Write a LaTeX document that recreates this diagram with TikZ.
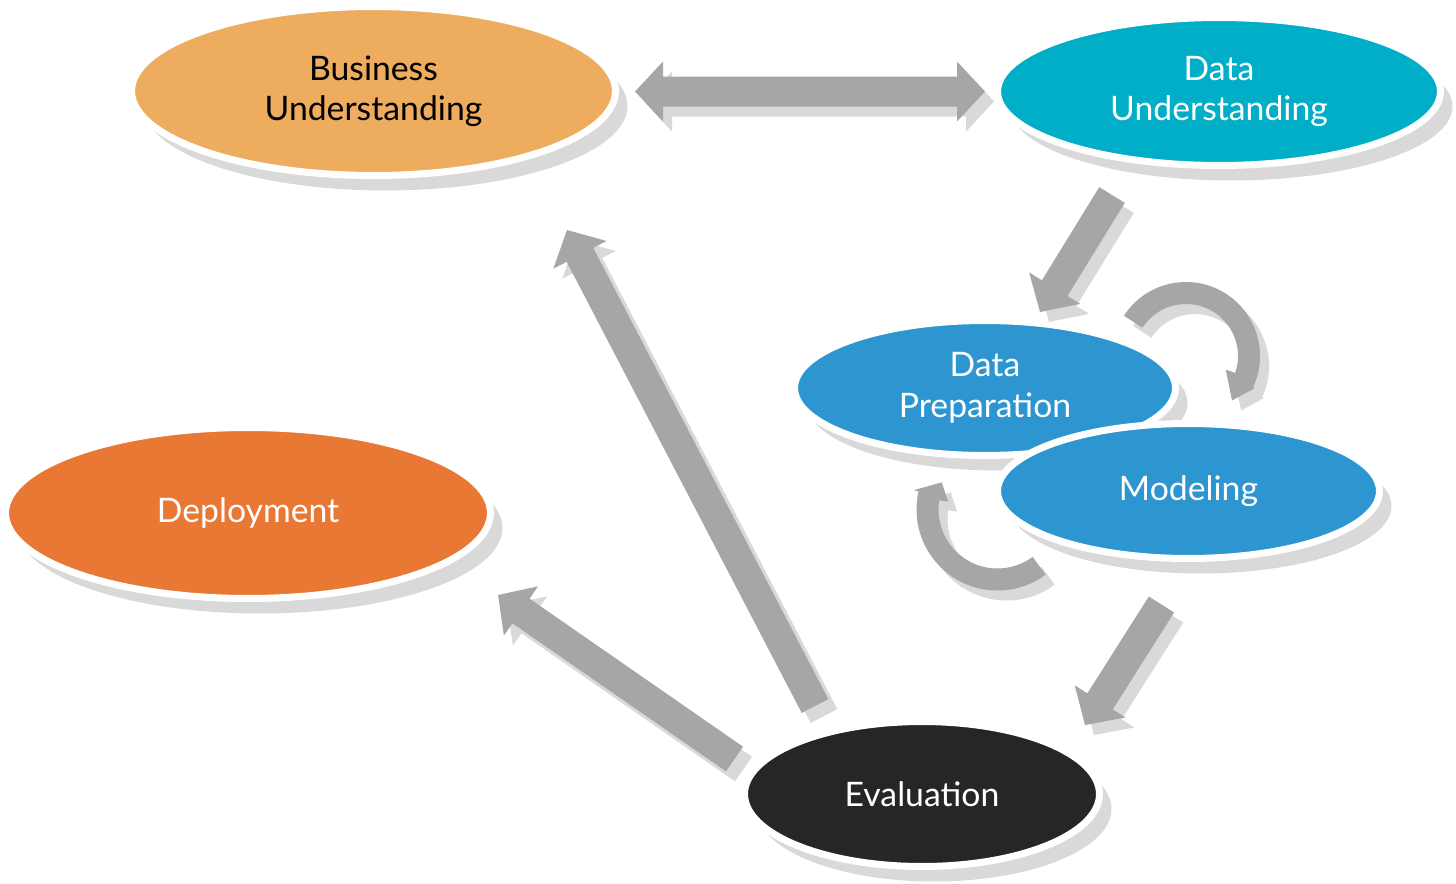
\documentclass[tikz,border=0pt]{standalone}
\usepackage{fontspec}
\setmainfont{Lato}
\usetikzlibrary{calc,shapes.geometric,shadows}
\definecolor{buorange}{HTML}{EEAC5F}
\definecolor{duteal}{HTML}{00AEC7}
\definecolor{dpblue}{HTML}{2D96D0}
\definecolor{deporange}{HTML}{E87834}
\definecolor{evblack}{HTML}{262626}
\definecolor{arrowgray}{HTML}{A6A6A6}
\definecolor{shadowgray}{HTML}{D9D9D9}
\tikzset{
  phase/.style={ellipse, draw=white, line width=0.14cm, inner sep=0pt, align=center,
    text=white, font=\fontsize{19.2}{23}\selectfont,
    drop shadow={shadow xshift=0.24cm, shadow yshift=-0.3cm, fill=shadowgray, opacity=1}},
}
% block arrow from #2 (tail) to #3 (tip)
\newcommand\blockarrow[3][arrowgray]{%
  \coordinate (ba-n) at ($(#3)!0.56cm!(#2)$);
  \fill[#1] ($(#2)!0.3cm!90:(#3)$) -- ($(ba-n)!0.3cm!90:(#3)$) -- ($(ba-n)!0.6cm!90:(#3)$)
    -- (#3) -- ($(ba-n)!0.6cm!-90:(#3)$) -- ($(ba-n)!0.3cm!-90:(#3)$) -- ($(#2)!0.3cm!-90:(#3)$) -- cycle;}
\newcommand\castarrow[2]{%
  \coordinate (ca-a) at ($(#1)+(9,10)$);
  \coordinate (ca-b) at ($(#2)+(9,10)$);
  \blockarrow[shadowgray]{ca-a}{ca-b}
  \blockarrow{#1}{#2}}
\begin{document}
\begin{tikzpicture}[x=0.02cm,y=-0.02cm]
\useasboundingbox (0,0) rectangle (1456,883);

\node[phase, fill=buorange, text=black, minimum width=9.68cm, minimum height=3.38cm] (bu) at (373.5,91) {Business\\Understanding};
\node[phase, fill=duteal, minimum width=8.86cm, minimum height=2.96cm] (du) at (1219,91.5) {Data\\Understanding};
\node[phase, fill=dpblue, minimum width=7.62cm, minimum height=2.7cm] (dp) at (985,388) {Data\\Preparation};
\node[phase, fill=dpblue, minimum width=7.64cm, minimum height=2.7cm] (mod) at (1188.5,491) {Modeling};
\node[phase, fill=deporange, minimum width=9.7cm, minimum height=3.42cm] (dep) at (248,513) {Deployment};
\node[phase, fill=evblack, minimum width=7.1cm, minimum height=2.9cm] (ev) at (922,794) {Evaluation};

\coordinate (bu-du) at (810,91.5);
\coordinate (bu-in) at (635,91.5);
\coordinate (du-in) at (985,91.5);
\coordinate (du-out) at (1112,195);
\coordinate (dp-in) at (1040,312);
\coordinate (mod-out) at (1161.5,604.5);
\coordinate (ev-in) at (1085,725);
\coordinate (ev-up) at (815,706);
\coordinate (bu-back) at (567,230);
\coordinate (ev-left) at (734.5,759);
\coordinate (dep-in) at (498,595);
\coordinate (c1) at (1186,356);
\coordinate (c2) at (997.5,509.5);

\castarrow{bu-du}{bu-in}
\castarrow{bu-du}{du-in}
\castarrow{du-out}{dp-in}
\castarrow{mod-out}{ev-in}
\castarrow{ev-up}{bu-back}
\castarrow{ev-left}{dep-in}

\foreach \dx/\dy/\col in {9/10/shadowgray,0/0/arrowgray}{
  \fill[\col, shift={($(c1)+(\dx,\dy)$)}] (213:74) arc[start angle=213, end angle=385, radius=74]
    -- (385:76) -- (404:64) -- (379:42) -- (379:52) arc[start angle=379, end angle=213, radius=52] -- cycle;
  \fill[\col, shift={($(c2)+(\dx,\dy)$)}] (53.5:81) arc[start angle=53.5, end angle=193, radius=81]
    -- (193:86) -- (206:62) -- (189:50) -- (189:59) arc[start angle=189, end angle=53.5, radius=59] -- cycle;
}
\end{tikzpicture}
\end{document}
